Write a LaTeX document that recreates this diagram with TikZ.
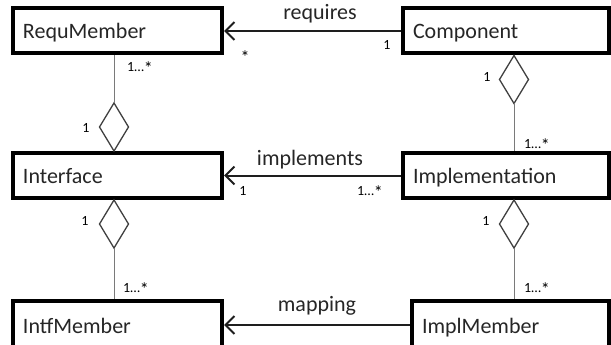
\documentclass[tikz,border=0pt]{standalone}
\usepackage{fontspec}
\setmainfont{Carlito}
\usetikzlibrary{arrows.meta,shapes.geometric}
\definecolor{txt}{HTML}{262626}
\definecolor{lnk}{HTML}{1E1E1E}
\definecolor{vline}{HTML}{7A7A7A}
\definecolor{dia}{HTML}{404040}
\newcommand\mystar{\raisebox{-3pt}{\fontsize{18}{20}\selectfont *}}
\begin{document}
\begin{tikzpicture}[x=1pt,y=-1pt,
  cls/.style={draw=black, line width=4pt, fill=white, minimum height=45pt,
    inner xsep=10pt, inner ysep=0pt, align=left, text height=17pt, text depth=1pt,
    font=\fontsize{22}{26}\selectfont, text=txt},
  agg/.style={shape=diamond, draw=dia, line width=1.3pt, fill=white, inner sep=0pt,
    outer sep=0pt, minimum width=29pt, minimum height=48pt},
  assoc/.style={draw=lnk, line width=2pt, -{Straight Barb[length=9pt,width=18pt,line width=2pt]}},
  part/.style={draw=vline, line width=1pt},
  rel/.style={font=\fontsize{22}{26}\selectfont, text=txt, inner sep=0pt},
  mult/.style={font=\fontsize{14}{16}\selectfont, text=black, inner sep=0pt}]
\clip (0,0) rectangle (611,345);
\coordinate (cl) at (114,0);
\coordinate (cr) at (514,0);
% classes
\node[cls, text width=189pt] (RequMember) at (117.5,31) {RequMember};
\node[cls, text width=189pt] (Interface) at (117.5,175.5) {Interface};
\node[cls, text width=189pt, minimum height=48pt] (IntfMember) at (117.5,325) {IntfMember};
\node[cls, text width=186pt] (Component) at (506,31) {Component};
\node[cls, text width=186pt] (Implementation) at (506,175.5) {Implementation};
\node[cls, text width=177pt, minimum height=48pt] (ImplMember) at (510.5,325) {ImplMember};
% aggregation diamonds
\node[agg, anchor=south] (dA) at (Interface.north -| cl) {};
\node[agg, anchor=north] (dB) at (Interface.south -| cl) {};
\node[agg, anchor=north] (dC) at (Component.south -| cr) {};
\node[agg, anchor=north] (dD) at (Implementation.south -| cr) {};
\draw[part] (dA.north) -- (RequMember.south -| cl);
\draw[part] (dB.south) -- (IntfMember.north -| cl);
\draw[part] (dC.south) -- (Implementation.north -| cr);
\draw[part] (dD.south) -- (ImplMember.north -| cr);
% associations
\draw[assoc] (Component.west) -- (RequMember.east);
\draw[assoc] (Implementation.west) -- (Interface.east);
\draw[assoc] (ImplMember.west) -- (IntfMember.east);
% association labels
\node[rel, anchor=base] (lreq) at (320,20) {requires};
\node[rel, anchor=base] (limp) at (310,165) {implements};
\node[rel, anchor=base] (lmap) at (317,311) {mapping};
% multiplicities
\node[mult, anchor=base] (m1) at (245,61) {\mystar};
\node[mult, anchor=base] (m2) at (387,50) {1};
\node[mult, anchor=base] (m3) at (243,195) {1};
\node[mult, anchor=base west] (m4) at (357,195) {1…\mystar};
\node[mult, anchor=base west] (m5) at (127,72) {1…\mystar};
\node[mult, anchor=base] (m6) at (86,132) {1};
\node[mult, anchor=base] (m7) at (487,82) {1};
\node[mult, anchor=base west] (m8) at (524,148) {1…\mystar};
\node[mult, anchor=base] (m9) at (85,225) {1};
\node[mult, anchor=base west] (m10) at (123,292) {1…\mystar};
\node[mult, anchor=base] (m11) at (486,225) {1};
\node[mult, anchor=base west] (m12) at (524,292) {1…\mystar};
\end{tikzpicture}
\end{document}
